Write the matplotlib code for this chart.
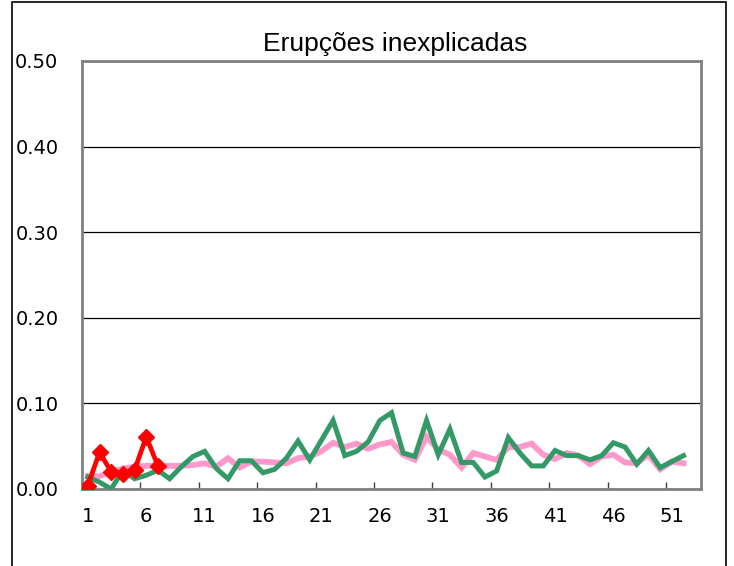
import matplotlib
matplotlib.use("Agg")
import matplotlib.pyplot as plt
from matplotlib.patches import Rectangle
import numpy as np

# data
weeks = np.arange(1, 53)
red_weeks = np.arange(1, 8)
red_vals = [0.004, 0.043, 0.020, 0.018, 0.022, 0.061, 0.027]
pink_vals = [0.015, 0.015, 0.020, 0.024, 0.026, 0.027, 0.027, 0.027, 0.027, 0.028,
             0.030, 0.026, 0.036, 0.025, 0.032, 0.032, 0.031, 0.030, 0.036, 0.038,
             0.044, 0.054, 0.049, 0.053, 0.047, 0.052, 0.055, 0.040, 0.034, 0.061,
             0.046, 0.040, 0.025, 0.042, 0.038, 0.034, 0.049, 0.049, 0.053, 0.040,
             0.035, 0.042, 0.039, 0.029, 0.038, 0.040, 0.031, 0.030, 0.040, 0.023,
             0.032, 0.030]
green_vals = [0.014, 0.008, 0.000, 0.022, 0.012, 0.016, 0.022, 0.012, 0.026, 0.038,
              0.044, 0.024, 0.012, 0.033, 0.033, 0.019, 0.023, 0.036, 0.056, 0.034,
              0.057, 0.080, 0.039, 0.044, 0.055, 0.080, 0.089, 0.042, 0.038, 0.080,
              0.040, 0.070, 0.031, 0.031, 0.014, 0.021, 0.060, 0.042, 0.027, 0.027,
              0.045, 0.039, 0.039, 0.034, 0.039, 0.054, 0.049, 0.029, 0.045, 0.025,
              0.032, 0.039]
y_ticks = [0.0, 0.1, 0.2, 0.3, 0.4, 0.5]
x_labels = [1, 6, 11, 16, 21, 26, 31, 36, 41, 46, 51]

fig = plt.figure(figsize=(7.34, 5.66), dpi=100)
ax = fig.add_axes([82 / 734, 1 - 489 / 566, 619 / 734, 428 / 566])

ax.plot(weeks, pink_vals, color="#ff99cc", lw=4.2, solid_joinstyle="miter", zorder=3)
ax.plot(weeks, green_vals, color="#339966", lw=3.6, solid_joinstyle="miter", zorder=4)
ax.plot(red_weeks, red_vals, color="#ff0000", lw=3.4, marker="D", ms=8.5,
        solid_joinstyle="miter", zorder=5)

ax.set_xlim(0.5, 53.5)
ax.set_ylim(0, 0.5)
ax.set_yticks(y_ticks)
ax.set_yticklabels([f"{v:.2f}" for v in y_ticks])
ax.yaxis.grid(True, color="black", lw=0.9)
ax.set_axisbelow(True)
ax.tick_params(axis="y", length=0, pad=17, labelsize=14)

ax.set_xticks(np.arange(5.5, 51, 5))
ax.set_xticklabels([])
ax.set_xticks(x_labels, minor=True)
ax.set_xticklabels([str(v) for v in x_labels], minor=True)
ax.tick_params(axis="x", which="major", direction="in", length=5, width=1, color="#404040")
ax.tick_params(axis="x", which="minor", length=0, pad=13, labelsize=14)

for s in ax.spines.values():
    s.set_color("#808080")
    s.set_linewidth(2)

fig.text(395 / 734, 1 - 44 / 566, "Erupções inexplicadas", ha="center", va="center",
         fontsize=19, family="Liberation Sans")

# outer chart border
fig.patches.append(Rectangle((12 / 734, -0.1), 714 / 734, 1.1 - 2 / 566,
                             transform=fig.transFigure, fill=False,
                             edgecolor="black", lw=1.2))

fig.savefig("out.png", dpi=100)
